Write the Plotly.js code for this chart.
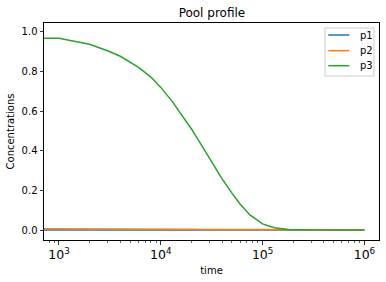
<!DOCTYPE html>
<html><head><meta charset="utf-8">
<script src="https://cdn.plot.ly/plotly-3.0.1.min.js"></script>
<style>html,body{margin:0;padding:0;background:#fff}</style>
</head><body><div id="chart" style="width:386px;height:282px"></div>
<script>
const time = [500, 1000, 2000, 3000, 4000, 5000, 6000, 8000, 10000, 13000, 16000, 20000, 25000, 30000, 35000, 40000, 50000, 60000, 75000, 90000, 100000, 130000, 180000, 250000, 500000, 1000000];
const p1 = [0.0, 0.0, 0.0, 0.0, 0.0, 0.0, 0.0, 0.0, 0.0, 0.0, 0.0, 0.0, 0.0, 0.0, 0.0, 0.0, 0.0, 0.0, 0.0, 0.0, 0.0, 0.0, 0.0, 0.0, 0.0, 0.0];
const p2 = [0.007, 0.007, 0.006, 0.006, 0.006, 0.005, 0.005, 0.005, 0.004, 0.004, 0.004, 0.004, 0.003, 0.003, 0.003, 0.003, 0.003, 0.002, 0.002, 0.002, 0.002, 0.002, 0.001, 0.001, 0.001, 0.001];
const p3 = [0.968, 0.968, 0.938, 0.905, 0.877, 0.848, 0.822, 0.772, 0.720, 0.648, 0.584, 0.510, 0.430, 0.362, 0.306, 0.258, 0.186, 0.131, 0.076, 0.045, 0.031, 0.011, 0.003, 0.001, 0.0, 0.0];
const names = ['p1', 'p2', 'p3'];
const colors = ['#1f77b4', '#ff7f0e', '#2ca02c'];
const series = [p1, p2, p3];

const font = {family: 'DejaVu Sans', size: 10, color: '#000'};
const traces = series.map((s, i) => ({
  x: time, y: s, name: names[i], type: 'scatter', mode: 'lines',
  line: {color: colors[i], width: 1.5}, showlegend: false
}));

// legend drawn in paper coordinates (matplotlib-style compact legend)
const legX0 = 0.8388, legX1 = 0.985, legY0 = 0.7558, legY1 = 0.977;
const rowY = [0.9447, 0.8724, 0.8032];
const shapes = [{type: 'rect', xref: 'paper', yref: 'paper', x0: legX0, x1: legX1, y0: legY0, y1: legY1,
  line: {color: '#cccccc', width: 1}, fillcolor: 'rgba(255,255,255,0.8)', layer: 'above'}];
const annotations = [];
names.forEach((n, i) => {
  shapes.push({type: 'line', xref: 'paper', yref: 'paper', x0: 0.8487, x1: 0.9113, y0: rowY[i], y1: rowY[i],
    line: {color: colors[i], width: 1.5}, layer: 'above'});
  annotations.push({xref: 'paper', yref: 'paper', x: 0.9373, y: rowY[i], xanchor: 'left', yanchor: 'middle',
    text: n, showarrow: false, font: font});
});

const layout = {
  width: 386, height: 282,
  margin: {l: 44, r: 7, t: 23, b: 42},
  paper_bgcolor: '#fff', plot_bgcolor: '#fff',
  font: font,
  title: {text: 'Pool profile', font: {family: 'DejaVu Sans', size: 12, color: '#000'}, x: 0.549, xanchor: 'center', y: 0.955, yanchor: 'middle'},
  xaxis: {
    type: 'log', range: [2.853, 6.143],
    dtick: 1, exponentformat: 'power',
    showgrid: false, zeroline: false,
    showline: true, linecolor: '#000', linewidth: 1, mirror: true,
    ticks: 'outside', ticklen: 3.5, tickwidth: 0.8, tickcolor: '#000',
    minor: {dtick: 'D1', ticks: 'outside', ticklen: 2, tickwidth: 0.6, tickcolor: '#000', showgrid: false},
    tickfont: font,
    title: {text: 'time', font: font, standoff: 5}
  },
  yaxis: {
    range: [-0.0505, 1.045],
    tickvals: [0, 0.2, 0.4, 0.6, 0.8, 1.0],
    ticktext: ['0.0', '0.2', '0.4', '0.6', '0.8', '1.0'],
    showgrid: false, zeroline: false,
    showline: true, linecolor: '#000', linewidth: 1, mirror: true,
    ticks: 'outside', ticklen: 3.5, tickwidth: 0.8, tickcolor: '#000',
    tickfont: font,
    title: {text: 'Concentrations', font: font, standoff: 5}
  },
  shapes: shapes,
  annotations: annotations,
  showlegend: false
};
Plotly.newPlot('chart', traces, layout, {displayModeBar: false, staticPlot: true});
</script></body></html>
